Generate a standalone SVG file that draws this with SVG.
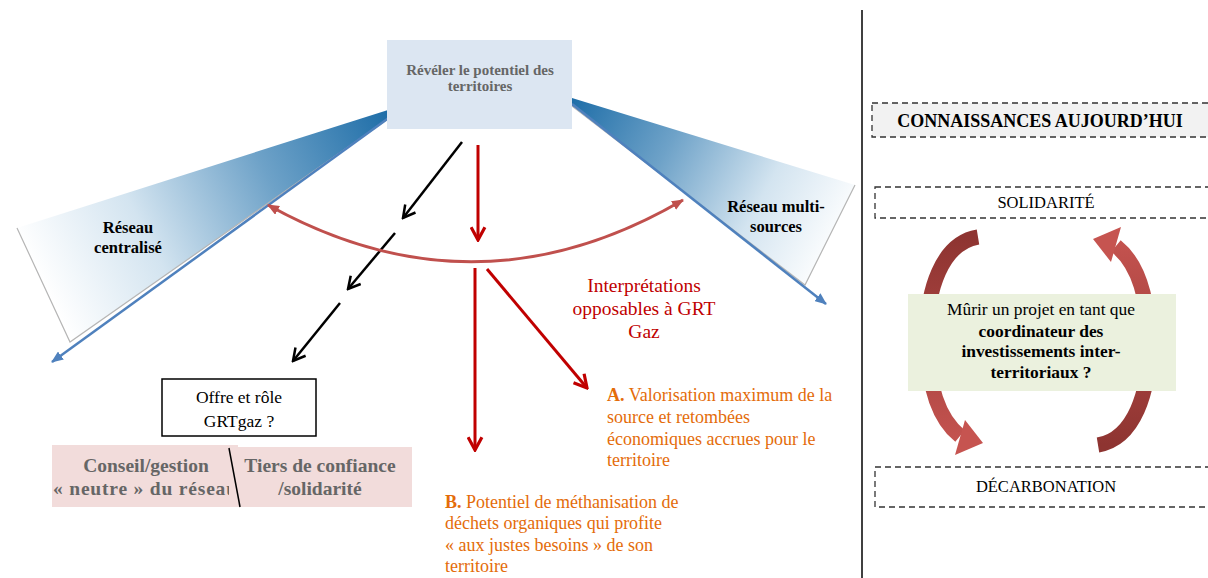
<svg xmlns="http://www.w3.org/2000/svg" width="1208" height="578" viewBox="0 0 1208 578" font-family="'Liberation Serif', 'Times New Roman', serif">
<defs>
<style>
text{font-family:"Liberation Serif","Times New Roman",serif}
.b{font-weight:bold}
.mid{text-anchor:middle}
.blk{stroke:#000;stroke-width:2.5;fill:none}
.red{stroke:#c00000;stroke-width:3;fill:none}
.blue{stroke:#4f81bd;stroke-width:2.5;fill:none}
.dash{fill:#fff;stroke:#333;stroke-width:1.3;stroke-dasharray:6 4}
.orange{fill:#e46c0a;font-size:18px}
.gray{fill:#666}
</style>
<linearGradient id="gL" gradientUnits="userSpaceOnUse" x1="388" y1="115" x2="45" y2="290">
<stop offset="0" stop-color="#1f6ea8"/><stop offset="0.35" stop-color="#6ea2c8"/><stop offset="0.7" stop-color="#d3e4f0"/><stop offset="1" stop-color="#ffffff"/>
</linearGradient>
<linearGradient id="gR" gradientUnits="userSpaceOnUse" x1="572" y1="100" x2="840" y2="245">
<stop offset="0" stop-color="#1f6ea8"/><stop offset="0.35" stop-color="#6ea2c8"/><stop offset="0.7" stop-color="#d3e4f0"/><stop offset="1" stop-color="#ffffff"/>
</linearGradient>
<linearGradient id="gA" gradientUnits="userSpaceOnUse" x1="0" y1="237" x2="0" y2="450">
<stop offset="0" stop-color="#8e3431"/><stop offset="1" stop-color="#c65450"/>
</linearGradient>
<marker id="mBlk" markerUnits="userSpaceOnUse" viewBox="0 0 16 16" refX="14" refY="8" markerWidth="16" markerHeight="16" orient="auto"><path d="M2,1.5 L14,8 L2,14.5" fill="none" stroke="#000" stroke-width="2.5"/></marker>
<marker id="mRed" markerUnits="userSpaceOnUse" viewBox="0 0 16 16" refX="14" refY="8" markerWidth="17" markerHeight="17" orient="auto"><path d="M2,1.5 L14,8 L2,14.5" fill="none" stroke="#c00000" stroke-width="3"/></marker>
<marker id="mBlue" markerUnits="userSpaceOnUse" viewBox="0 0 12 10" refX="11" refY="5" markerWidth="12" markerHeight="10" orient="auto"><path d="M0,0 L12,5 L0,10 Z" fill="#4f81bd"/></marker>
<marker id="mArc" markerUnits="userSpaceOnUse" viewBox="0 0 12 10" refX="11" refY="5" markerWidth="12" markerHeight="10" orient="auto-start-reverse"><path d="M0,0 L12,5 L0,10 Z" fill="#c0504d"/></marker>
<clipPath id="cpL"><rect x="52" y="445" width="177" height="62"/></clipPath>
</defs>
<rect width="1208" height="578" fill="#fff"/>

<g id="wedge-left">
<polygon points="388,110 17,228 70,342 388,119" fill="url(#gL)"/>
<path d="M17,228 L70,342 L388,119" fill="none" stroke="#b5b5b5" stroke-width="1.2"/>
<text class="b mid" x="128" y="233" font-size="16.5">Réseau</text>
<text class="b mid" x="128" y="253" font-size="16.5">centralisé</text>
</g>
<g id="wedge-right">
<polygon points="572,98 855,185 805,285 572,106" fill="url(#gR)"/>
<path d="M855,185 L805,285 L572,106" fill="none" stroke="#b5b5b5" stroke-width="1.2"/>
<text class="b mid" x="776" y="212" font-size="16.5">Réseau multi-</text>
<text class="b mid" x="776" y="232" font-size="16.5">sources</text>
</g>

<g id="connectors">
<line class="blue" x1="390" y1="117" x2="52" y2="362" marker-end="url(#mBlue)"/>
<line class="blue" x1="572" y1="104" x2="826" y2="304" marker-end="url(#mBlue)"/>
<line class="blk" x1="462" y1="142" x2="403" y2="218" marker-end="url(#mBlk)"/>
<line class="blk" x1="395" y1="233" x2="348" y2="289" marker-end="url(#mBlk)"/>
<line class="blk" x1="340" y1="303" x2="293" y2="361" marker-end="url(#mBlk)"/>
<line class="red" x1="478" y1="145" x2="478" y2="240" marker-end="url(#mRed)"/>
<line class="red" x1="475" y1="268" x2="475" y2="450" marker-end="url(#mRed)"/>
<line class="red" x1="487" y1="269" x2="587" y2="388" marker-end="url(#mRed)"/>
<path d="M268,205 Q476,321 683,200" fill="none" stroke="#c0504d" stroke-width="3" marker-start="url(#mArc)" marker-end="url(#mArc)"/>
</g>

<g id="top-box">
<rect x="387" y="40" width="185" height="89" fill="#dce6f2"/>
<text class="b mid gray" x="480" y="75" font-size="15">Révéler le potentiel des</text>
<text class="b mid gray" x="480" y="91" font-size="15">territoires</text>
</g>

<g id="interpretations">
<text class="mid" x="644" y="292" font-size="19.5" fill="#c00000">Interprétations</text>
<text class="mid" x="644" y="315" font-size="19.5" fill="#c00000">opposables à GRT</text>
<text class="mid" x="644" y="338" font-size="19.5" fill="#c00000">Gaz</text>
</g>

<g id="option-a">
<text class="orange" x="607" y="401"><tspan class="b">A.</tspan> Valorisation maximum de la</text>
<text class="orange" x="607" y="423">source et retombées</text>
<text class="orange" x="607" y="445">économiques accrues pour le</text>
<text class="orange" x="607" y="466">territoire</text>
</g>

<g id="option-b">
<text class="orange" x="445" y="508"><tspan class="b">B.</tspan> Potentiel de méthanisation de</text>
<text class="orange" x="445" y="529">déchets organiques qui profite</text>
<text class="orange" x="445" y="551">« aux justes besoins » de son</text>
<text class="orange" x="445" y="572">territoire</text>
</g>

<g id="offre">
<rect x="162" y="379" width="154" height="57" fill="#fff" stroke="#000" stroke-width="1.5"/>
<text class="mid" x="239" y="403" font-size="17.5">Offre et rôle</text>
<text class="mid" x="239" y="427" font-size="17.5">GRTgaz ?</text>
</g>

<g id="conseil">
<rect x="52" y="445" width="186" height="62" fill="#f2dcdb"/>
<g clip-path="url(#cpL)">
<text class="b mid gray" x="146" y="472" font-size="19.5">Conseil/gestion</text>
<text class="b gray" x="53" y="495" font-size="19.5" textLength="184" lengthAdjust="spacing">« neutre » du réseau</text>
</g>
</g>
<g id="tiers">
<rect x="238" y="447" width="174" height="60" fill="#f2dcdb"/>
<text class="b mid gray" x="320" y="472" font-size="19.5">Tiers de confiance</text>
<text class="b mid gray" x="320" y="495" font-size="19.5">/solidarité</text>
</g>
<line x1="229" y1="448" x2="240" y2="507" stroke="#000" stroke-width="1.5"/>

<line id="divider" x1="862" y1="10" x2="862" y2="578" stroke="#000" stroke-width="1.5"/>

<g id="connaissances">
<rect class="dash" x="872" y="103" width="345" height="34" style="fill:#f2f2f2"/>
<text class="b mid" x="1040" y="127" font-size="18">CONNAISSANCES AUJOURD’HUI</text>
</g>
<g id="solidarite">
<rect class="dash" x="875" y="187" width="345" height="31"/>
<text class="mid" x="1046" y="208" font-size="16.5">SOLIDARITÉ</text>
</g>
<g id="decarbonation">
<rect class="dash" x="875" y="467" width="345" height="40"/>
<text class="mid" x="1046" y="492" font-size="16.5">DÉCARBONATION</text>
</g>

<g id="cycle">
<g id="cycle-left">
<path d="M978,237 C942,243 926,290 927,340 C928,390 940,420 960,436" fill="none" stroke="url(#gA)" stroke-width="15"/>
<polygon points="965,420 983,443 955,455" fill="#c65450"/>
</g>
<g id="cycle-right" transform="rotate(180 1038 341)">
<path d="M978,237 C942,243 926,290 927,340 C928,390 940,420 960,436" fill="none" stroke="url(#gA)" stroke-width="15"/>
<polygon points="965,420 983,443 955,455" fill="#c65450"/>
</g>
</g>

<g id="murir">
<rect x="908" y="294" width="268" height="97" fill="#ebf1de"/>
<text class="mid" x="1041" y="315" font-size="17.4">Mûrir un projet en tant que</text>
<text class="b mid" x="1041" y="337" font-size="17.4">coordinateur des</text>
<text class="b mid" x="1041" y="357" font-size="17.4">investissements inter-</text>
<text class="b mid" x="1041" y="378" font-size="17.4">territoriaux ?</text>
</g>
</svg>
